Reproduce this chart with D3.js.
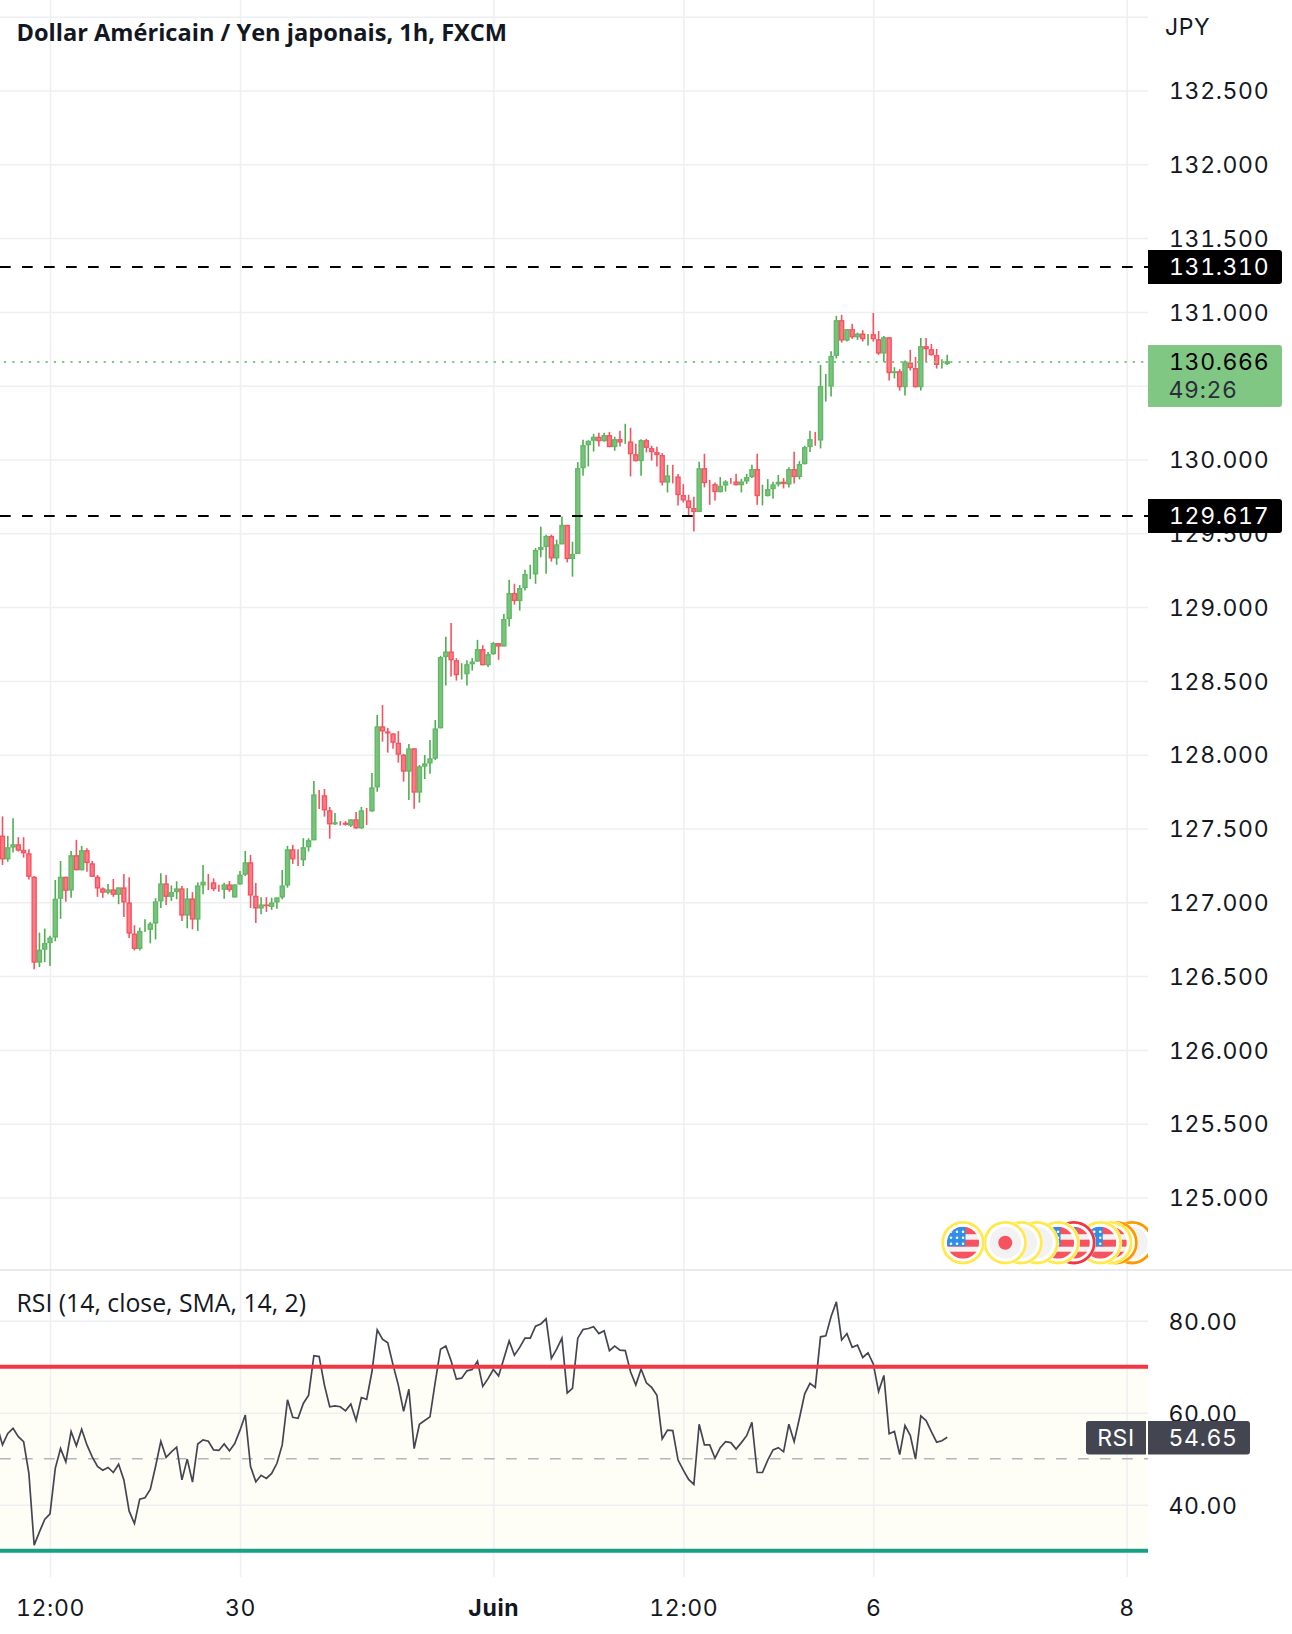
<!DOCTYPE html>
<html>
<head>
<meta charset="utf-8">
<script src="https://cdn.jsdelivr.net/npm/d3@7"></script>
<style>
  html, body { margin: 0; padding: 0; background: #fff; }
  svg { display: block; }
  .num { font-family: Inter, sans-serif; font-size: 23px; letter-spacing: 0.65px; fill: #131722; font-variant-numeric: tabular-nums; font-feature-settings: "tnum"; }
  .legend { font-family: "Open Sans", sans-serif; fill: #131722; }
</style>
</head>
<body>
<svg id="chart" width="1292" height="1634"></svg>
<script>
// hourly candles
const opens = [
  127.452,127.291,127.371,127.393,127.355,127.332,127.173,126.591,126.679,126.724,
  126.761,127.024,127.173,127.080,127.319,127.217,127.353,127.264,127.173,127.094,
  127.065,127.087,127.051,127.101,126.999,126.788,126.684,126.806,126.813,126.856,
  127.006,127.128,127.037,127.069,127.094,126.910,127.026,126.883,127.114,127.139,
  127.135,127.096,127.085,127.121,127.033,127.121,127.187,127.271,127.044,126.958,
  126.985,126.969,126.999,127.033,127.114,127.359,127.291,127.285,127.373,127.420,
  127.731,127.725,127.623,127.528,127.543,127.539,127.519,127.562,127.501,127.623,
  127.616,127.779,128.192,128.158,128.144,128.081,128.000,127.885,128.043,127.743,
  127.919,127.941,127.973,128.179,128.661,128.699,128.640,128.539,128.545,128.613,
  128.631,128.715,128.606,128.681,128.756,128.733,128.919,129.095,129.041,129.129,
  129.220,129.222,129.387,129.407,129.482,129.330,129.425,129.557,129.326,129.360,
  129.941,130.097,130.127,130.154,130.124,130.165,130.084,130.138,130.115,130.122,
  130.036,129.989,130.131,130.077,130.050,130.030,129.844,129.892,129.885,129.759,
  129.723,129.671,129.644,129.941,129.840,129.833,129.779,129.824,129.851,129.851,
  129.826,129.851,129.881,129.935,129.750,129.752,129.799,129.831,129.849,129.831,
  129.935,129.881,129.969,130.084,130.138,130.129,130.492,130.494,130.702,130.944,
  130.806,130.883,130.828,130.853,130.842,130.849,130.815,130.718,130.828,130.585,
  130.598,130.490,130.657,130.619,130.490,130.768,130.747,130.707,130.641,130.646
];
const highs = [
  127.582,127.450,127.570,127.441,127.441,127.359,127.178,126.795,126.822,126.774,
  127.151,127.280,127.173,127.348,127.423,127.382,127.366,127.280,127.185,127.101,
  127.124,127.158,127.101,127.192,127.169,126.845,126.829,126.885,126.867,127.028,
  127.196,127.185,127.114,127.142,127.110,127.096,127.069,127.135,127.253,127.192,
  127.162,127.119,127.133,127.144,127.121,127.212,127.348,127.321,127.130,127.035,
  127.035,127.031,127.033,127.219,127.382,127.389,127.359,127.434,127.434,127.822,
  127.761,127.768,127.646,127.605,127.550,127.550,127.562,127.612,127.646,127.639,
  127.876,128.269,128.336,128.181,128.144,128.160,128.005,128.072,128.043,127.930,
  127.998,128.099,128.235,128.670,128.799,128.892,128.654,128.620,128.640,128.654,
  128.778,128.742,128.695,128.763,128.756,128.953,129.186,129.158,129.149,129.253,
  129.287,129.400,129.545,129.491,129.491,129.457,129.613,129.557,129.443,129.982,
  130.133,130.129,130.174,130.181,130.181,130.187,130.154,130.194,130.242,130.215,
  130.106,130.138,130.140,130.093,130.086,130.043,129.964,129.964,129.901,129.833,
  129.761,129.747,129.984,130.039,129.862,129.844,129.881,129.860,129.874,129.903,
  129.869,129.903,129.964,130.039,129.829,129.867,129.849,129.896,129.874,129.948,
  130.052,129.989,130.093,130.194,130.187,130.641,130.580,130.734,130.973,130.980,
  130.883,130.919,130.860,130.876,130.851,130.993,130.871,130.837,130.828,130.625,
  130.612,130.670,130.743,130.695,130.824,130.824,130.783,130.749,130.680,130.709
];
const lows = [
  127.253,127.275,127.337,127.344,127.303,127.155,126.547,126.561,126.595,126.568,
  126.736,126.888,127.003,127.031,127.217,127.217,127.207,127.173,127.037,127.031,
  127.055,127.037,126.987,126.901,126.758,126.674,126.674,126.799,126.722,126.749,
  126.962,126.981,127.010,127.021,126.874,126.824,126.817,126.806,127.055,127.083,
  127.076,127.071,127.024,127.071,127.033,127.121,127.178,126.962,126.860,126.919,
  126.935,126.949,126.956,127.021,127.099,127.260,127.246,127.246,127.344,127.420,
  127.632,127.580,127.431,127.524,127.520,127.520,127.510,127.499,127.499,127.524,
  127.614,127.749,128.088,128.014,128.041,127.946,127.817,127.693,127.634,127.675,
  127.835,127.871,127.964,128.179,128.469,128.530,128.502,128.509,128.469,128.570,
  128.631,128.606,128.595,128.677,128.643,128.733,128.869,129.016,128.977,129.113,
  129.190,129.158,129.337,129.226,129.308,129.287,129.425,129.303,129.206,129.360,
  129.890,129.953,130.054,130.088,130.120,130.084,130.059,130.088,130.106,129.885,
  129.987,129.890,130.048,129.993,129.953,129.824,129.777,129.838,129.689,129.709,
  129.623,129.513,129.644,129.811,129.693,129.723,129.777,129.783,129.835,129.824,
  129.777,129.835,129.874,129.693,129.689,129.750,129.734,129.817,129.804,129.811,
  129.838,129.865,129.966,130.050,130.093,130.075,130.393,130.427,130.684,130.792,
  130.799,130.817,130.810,130.799,130.772,130.799,130.709,130.661,130.535,130.549,
  130.467,130.433,130.603,130.488,130.467,130.661,130.704,130.616,130.616,130.641
];
const closes = [
  127.291,127.373,127.393,127.350,127.332,127.173,126.591,126.679,126.724,126.761,
  127.024,127.173,127.078,127.319,127.217,127.353,127.266,127.173,127.094,127.065,
  127.087,127.051,127.101,126.999,126.788,126.684,126.806,126.813,126.856,127.006,
  127.128,127.037,127.069,127.094,126.910,127.026,126.883,127.114,127.139,127.135,
  127.089,127.089,127.121,127.083,127.121,127.187,127.271,127.046,126.958,126.985,
  126.974,126.999,127.033,127.114,127.359,127.291,127.285,127.373,127.421,127.731,
  127.725,127.623,127.528,127.542,127.536,127.525,127.562,127.501,127.623,127.616,
  127.779,128.192,128.158,128.144,128.081,128.000,127.885,128.043,127.743,127.921,
  127.941,127.975,128.178,128.661,128.699,128.640,128.539,128.545,128.613,128.631,
  128.715,128.606,128.681,128.756,128.733,128.919,129.095,129.041,129.129,129.224,
  129.224,129.387,129.407,129.482,129.330,129.425,129.557,129.326,129.360,129.941,
  130.097,130.127,130.154,130.124,130.165,130.084,130.138,130.115,130.122,130.036,
  129.989,130.131,130.079,130.050,130.030,129.844,129.892,129.885,129.759,129.723,
  129.671,129.644,129.941,129.840,129.833,129.779,129.822,129.851,129.844,129.826,
  129.851,129.881,129.935,129.752,129.754,129.799,129.831,129.849,129.835,129.935,
  129.881,129.969,130.084,130.138,130.133,130.497,130.497,130.702,130.944,130.806,
  130.883,130.828,130.853,130.815,130.849,130.815,130.718,130.828,130.585,130.598,
  130.490,130.664,130.619,130.490,130.768,130.747,130.707,130.641,130.648,130.666
];

// RSI starts one bar before the first visible candle
const rsiFirstBar = -1;
const rsiValues = [
  57.0,
  53.0,55.5,56.6,54.8,53.7,46.8,31.2,34.1,36.8,38.0,
  47.9,52.2,49.3,55.9,52.8,56.4,53.0,50.4,48.3,47.5,
  48.1,47.0,48.8,45.4,38.6,35.9,41.2,41.5,43.3,48.3,
  53.8,50.3,51.5,52.5,45.4,49.9,44.9,53.2,54.1,53.8,
  51.9,51.8,53.2,51.7,53.3,56.2,59.5,48.3,45.0,46.4,
  45.7,46.8,49.0,53.0,62.8,59.0,58.8,62.0,63.8,72.4,
  72.2,66.0,61.3,61.5,61.3,60.4,61.9,58.3,63.3,62.9,
  68.9,78.0,76.0,75.2,70.4,66.0,60.3,65.1,52.2,57.5,
  58.3,59.1,66.7,73.8,74.5,71.3,67.3,67.5,69.1,69.4,
  71.2,65.7,67.4,69.4,68.0,71.8,75.6,72.5,74.2,76.2,
  76.2,78.8,79.3,80.4,71.8,73.8,76.2,64.3,65.3,76.2,
  78.1,78.3,78.7,77.2,77.8,73.5,74.5,73.6,73.5,68.9,
  66.0,69.5,66.5,65.5,63.8,54.3,56.2,56.1,49.7,47.5,
  45.5,44.4,57.5,53.0,53.0,50.1,52.4,53.7,53.5,52.1,
  53.5,55.0,57.9,47.0,47.0,49.7,51.9,52.4,51.5,57.5,
  53.7,58.8,64.1,66.4,65.5,76.5,76.7,80.9,84.1,75.8,
  77.2,74.2,74.7,72.0,73.0,70.6,64.6,68.1,55.4,55.9,
  50.9,57.2,55.1,49.9,59.3,58.3,55.9,53.6,53.9,54.65
];

// 130.500 has a grid line but its label sits behind the last price box
const priceTicks = [125, 125.5, 126, 126.5, 127, 127.5, 128, 128.5, 129, 129.5, 130, 131, 131.5, 132, 132.5];
const priceGrid = priceTicks.concat([130.5, 133]);
const rsiTicks = [40, 60, 80];
const timeTickBars = [9, 45, 93, 129, 165, 213];
const timeTickLabels = ['12:00', '30', 'Juin', '12:00', '6', '8'];

const levelLines = [131.31, 129.617];
const lastPrice = 130.666;
const countdown = '49:26';
const lastRsi = 54.65;

// economic calendar badges, left one sits on top
const eventBars = [182, 190, 193, 196, 200, 203, 208, 210, 211, 214];
const eventFlags = ['us', 'jp', 'none', 'none', 'us', 'us', 'us', 'us', 'us', 'none'];
const eventRings = ['#ffe94d', '#ffe94d', '#ffe94d', '#ffe94d', '#ffe94d', '#f23645', '#ffe94d', '#ffe94d', '#ff9800', '#ff9800'];

const width = 1292;
const height = 1634;
const plotRight = 1148;
const paneBottom = 1270;
const rsiBottom = 1577;

const upWick = '#4caf50', upBorder = '#62b766', upFill = '#78c47c';
const downWick = '#f7525f', downBorder = '#f7525f', downFill = '#ff7b86';
const gridColor = '#eeeff1';

const svg = d3.select('#chart');

const x = d3.scaleLinear().domain([0, 179]).range([2.5, 947.2]);
const y = d3.scaleLinear().domain([125, 132.5]).range([1197.5, 90.5]);
const yRsi = d3.scaleLinear().domain([30, 80]).range([1550.7, 1320.7]);

const fmtPrice = d3.format('.3f');
const fmtRsi = d3.format('.2f');

// RSI band goes under the grid
svg.append('rect')
  .attr('x', 0).attr('width', plotRight)
  .attr('y', yRsi(70)).attr('height', yRsi(30) - yRsi(70))
  .attr('fill', '#fffef6');

// grid
const gridG = svg.append('g');
gridG.append('g')
  .call(d3.axisLeft(y).tickValues(priceGrid).tickSize(-plotRight).tickFormat(''))
  .call(g => g.select('.domain').remove())
  .selectAll('line').attr('stroke', gridColor).attr('stroke-width', 1.5);
gridG.append('g')
  .call(d3.axisLeft(yRsi).tickValues(rsiTicks).tickSize(-plotRight).tickFormat(''))
  .call(g => g.select('.domain').remove())
  .selectAll('line').attr('stroke', gridColor).attr('stroke-width', 1.5);
gridG.append('g')
  .call(d3.axisTop(x).tickValues(timeTickBars).tickSize(-rsiBottom).tickFormat(''))
  .call(g => g.select('.domain').remove())
  .selectAll('line').attr('stroke', gridColor).attr('stroke-width', 1.5);

// pane separator
svg.append('line')
  .attr('x1', 0).attr('x2', width)
  .attr('y1', paneBottom).attr('y2', paneBottom)
  .attr('stroke', '#e2e3e6').attr('stroke-width', 1.6);

// candles
const candle = svg.append('g').selectAll('g')
  .data(d3.range(opens.length))
  .join('g');

candle.append('line')
  .attr('x1', i => x(i)).attr('x2', i => x(i))
  .attr('y1', i => y(highs[i])).attr('y2', i => y(lows[i]))
  .attr('stroke', i => closes[i] >= opens[i] ? upWick : downWick)
  .attr('stroke-width', 1.6);

candle.append('rect')
  .attr('x', i => x(i) - 2)
  .attr('width', 4)
  .attr('y', i => y(Math.max(opens[i], closes[i])) + 0.65)
  .attr('height', i => Math.max(0, Math.abs(y(opens[i]) - y(closes[i])) - 1.3))
  .attr('fill', i => closes[i] >= opens[i] ? upFill : downFill)
  .attr('stroke', i => closes[i] >= opens[i] ? upBorder : downBorder)
  .attr('stroke-width', 1.4);

// level lines, snapped to the pixel row the labels use
const snapY = d => Math.round(y(d) + 0.4);
svg.append('g').selectAll('line')
  .data(levelLines)
  .join('line')
  .attr('x1', 0).attr('x2', plotRight)
  .attr('y1', d => snapY(d)).attr('y2', d => snapY(d))
  .attr('stroke', '#000').attr('stroke-width', 2)
  .attr('stroke-dasharray', '10.7,11.3');

// last price line
svg.append('line')
  .attr('x1', 4).attr('x2', plotRight)
  .attr('y1', snapY(lastPrice)).attr('y2', snapY(lastPrice))
  .attr('stroke', '#81c784').attr('stroke-width', 2)
  .attr('stroke-dasharray', '2.2,6.1');

// event badges
const defs = svg.append('defs');
defs.append('clipPath').attr('id', 'plot-clip')
  .append('rect').attr('width', plotRight).attr('height', paneBottom);
defs.append('clipPath').attr('id', 'flag-clip')
  .append('circle').attr('r', 16);

const badgeY = 1242.7;
const badges = svg.append('g').attr('clip-path', 'url(#plot-clip)');
d3.range(eventBars.length).reverse().forEach(i => {
  const b = badges.append('g').attr('transform', `translate(${x(eventBars[i])},${badgeY})`);
  b.append('circle').attr('r', 22).attr('fill', '#fff');
  b.append('circle').attr('r', 20.3).attr('fill', '#fff')
    .attr('stroke', eventRings[i]).attr('stroke-width', 2.8);
  const f = b.append('g').attr('clip-path', 'url(#flag-clip)');
  f.append('circle').attr('r', 16).attr('fill', '#f2f2f2');
  if (eventFlags[i] === 'jp') {
    f.append('circle').attr('r', 7).attr('fill', '#f7525f');
  }
  if (eventFlags[i] === 'us') {
    [[-16, 7.5], [-3, 7], [9, 7]].forEach(s => {
      f.append('rect').attr('x', -16).attr('width', 32)
        .attr('y', s[0]).attr('height', s[1]).attr('fill', '#f7525f');
    });
    f.append('rect').attr('x', -16).attr('y', -16).attr('width', 18.5).attr('height', 19.5).attr('fill', '#2f8fe6');
    d3.range(3).forEach(r => d3.range(3).forEach(c => {
      f.append('circle').attr('cx', -12 + c * 6).attr('cy', -11 + r * 6).attr('r', 1.3).attr('fill', '#fff');
    }));
  }
});

// RSI pane lines
svg.append('line')
  .attr('x1', 0).attr('x2', plotRight)
  .attr('y1', yRsi(50)).attr('y2', yRsi(50))
  .attr('stroke', '#b2b5be').attr('stroke-width', 1.5)
  .attr('stroke-dasharray', '10.7,11.3');

svg.append('path')
  .datum(rsiValues)
  .attr('fill', 'none')
  .attr('stroke', '#434651')
  .attr('stroke-width', 1.7)
  .attr('d', d3.line().x((d, i) => x(i + rsiFirstBar)).y(d => yRsi(d)));

svg.append('line')
  .attr('x1', 0).attr('x2', plotRight)
  .attr('y1', yRsi(70)).attr('y2', yRsi(70))
  .attr('stroke', '#f23645').attr('stroke-width', 4);
svg.append('line')
  .attr('x1', 0).attr('x2', plotRight)
  .attr('y1', yRsi(30)).attr('y2', yRsi(30))
  .attr('stroke', '#18a085').attr('stroke-width', 4);

// axes
const axisStyle = g => {
  g.select('.domain').remove();
  g.selectAll('line').remove();
  g.selectAll('text').attr('class', 'num').attr('dy', '0.36em').attr('fill', null);
  g.attr('font-family', null).attr('font-size', null);
};

svg.append('g')
  .attr('transform', `translate(${plotRight},0)`)
  .call(d3.axisRight(y).tickValues(priceTicks).tickFormat(fmtPrice).tickSize(0).tickPadding(21))
  .call(axisStyle);

svg.append('g')
  .attr('transform', `translate(${plotRight},0.4)`)
  .call(d3.axisRight(yRsi).tickValues(rsiTicks).tickFormat(fmtRsi).tickSize(0).tickPadding(20.5))
  .call(axisStyle);

svg.append('g')
  .attr('transform', 'translate(0,1608)')
  .call(d3.axisBottom(x).tickValues(timeTickBars).tickFormat((d, i) => timeTickLabels[i]).tickSize(0).tickPadding(0))
  .call(axisStyle)
  .call(g => g.selectAll('text').attr('y', 0)
    .style('font-weight', d => d === 93 ? 700 : null));

svg.append('text').attr('class', 'num')
  .attr('x', 1165).attr('y', 27).attr('dy', '0.36em')
  .text('JPY');

// price labels on the right
const labelBox = (yTop, h, x0, x1, fill, rLeft, rRight) => {
  const p = d3.path();
  p.moveTo(x0 + rLeft, yTop);
  p.lineTo(x1 - rRight, yTop);
  p.arcTo(x1, yTop, x1, yTop + rRight, rRight);
  p.lineTo(x1, yTop + h - rRight);
  p.arcTo(x1, yTop + h, x1 - rRight, yTop + h, rRight);
  p.lineTo(x0 + rLeft, yTop + h);
  p.arcTo(x0, yTop + h, x0, yTop + h - rLeft, rLeft);
  p.lineTo(x0, yTop + rLeft);
  p.arcTo(x0, yTop, x0 + rLeft, yTop, rLeft);
  p.closePath();
  svg.append('path').attr('d', p.toString()).attr('fill', fill);
};

levelLines.forEach(level => {
  labelBox(snapY(level) - 17, 34, plotRight, 1282, '#000', 0, 3);
  svg.append('text').attr('class', 'num')
    .attr('x', 1169).attr('y', snapY(level)).attr('dy', '0.36em')
    .style('fill', '#fff')
    .text(fmtPrice(level));
});

labelBox(snapY(lastPrice) - 17, 62, plotRight, 1282, '#81c784', 0, 3);
svg.append('text').attr('class', 'num')
  .attr('x', 1169).attr('y', snapY(lastPrice)).attr('dy', '0.36em')
  .style('fill', '#000')
  .text(fmtPrice(lastPrice));
svg.append('text').attr('class', 'num')
  .attr('x', 1168.5).attr('y', snapY(lastPrice) + 27.5).attr('dy', '0.36em')
  .style('fill', '#2a2e39')
  .text(countdown);

// RSI label
labelBox(1421, 33.5, 1086, 1146, '#434651', 3, 0);
labelBox(1421, 33.5, 1148, 1250, '#434651', 0, 3);
svg.append('text').attr('class', 'num')
  .attr('x', 1116).attr('y', 1438).attr('dy', '0.36em')
  .attr('text-anchor', 'middle')
  .style('fill', '#fff')
  .text('RSI');
svg.append('text').attr('class', 'num')
  .attr('x', 1168.5).attr('y', 1438).attr('dy', '0.36em')
  .style('fill', '#fff')
  .text(fmtRsi(lastRsi));

// legends
svg.append('text').attr('class', 'legend')
  .attr('x', 16.5).attr('y', 32.5).attr('dy', '0.36em')
  .style('font-size', '23.6px').style('font-weight', 700)
  .text('Dollar Américain / Yen japonais, 1h, FXCM');
svg.append('text').attr('class', 'legend')
  .attr('x', 16.5).attr('y', 1303).attr('dy', '0.36em')
  .style('font-size', '24.8px')
  .text('RSI (14, close, SMA, 14, 2)');
</script>
</body>
</html>
